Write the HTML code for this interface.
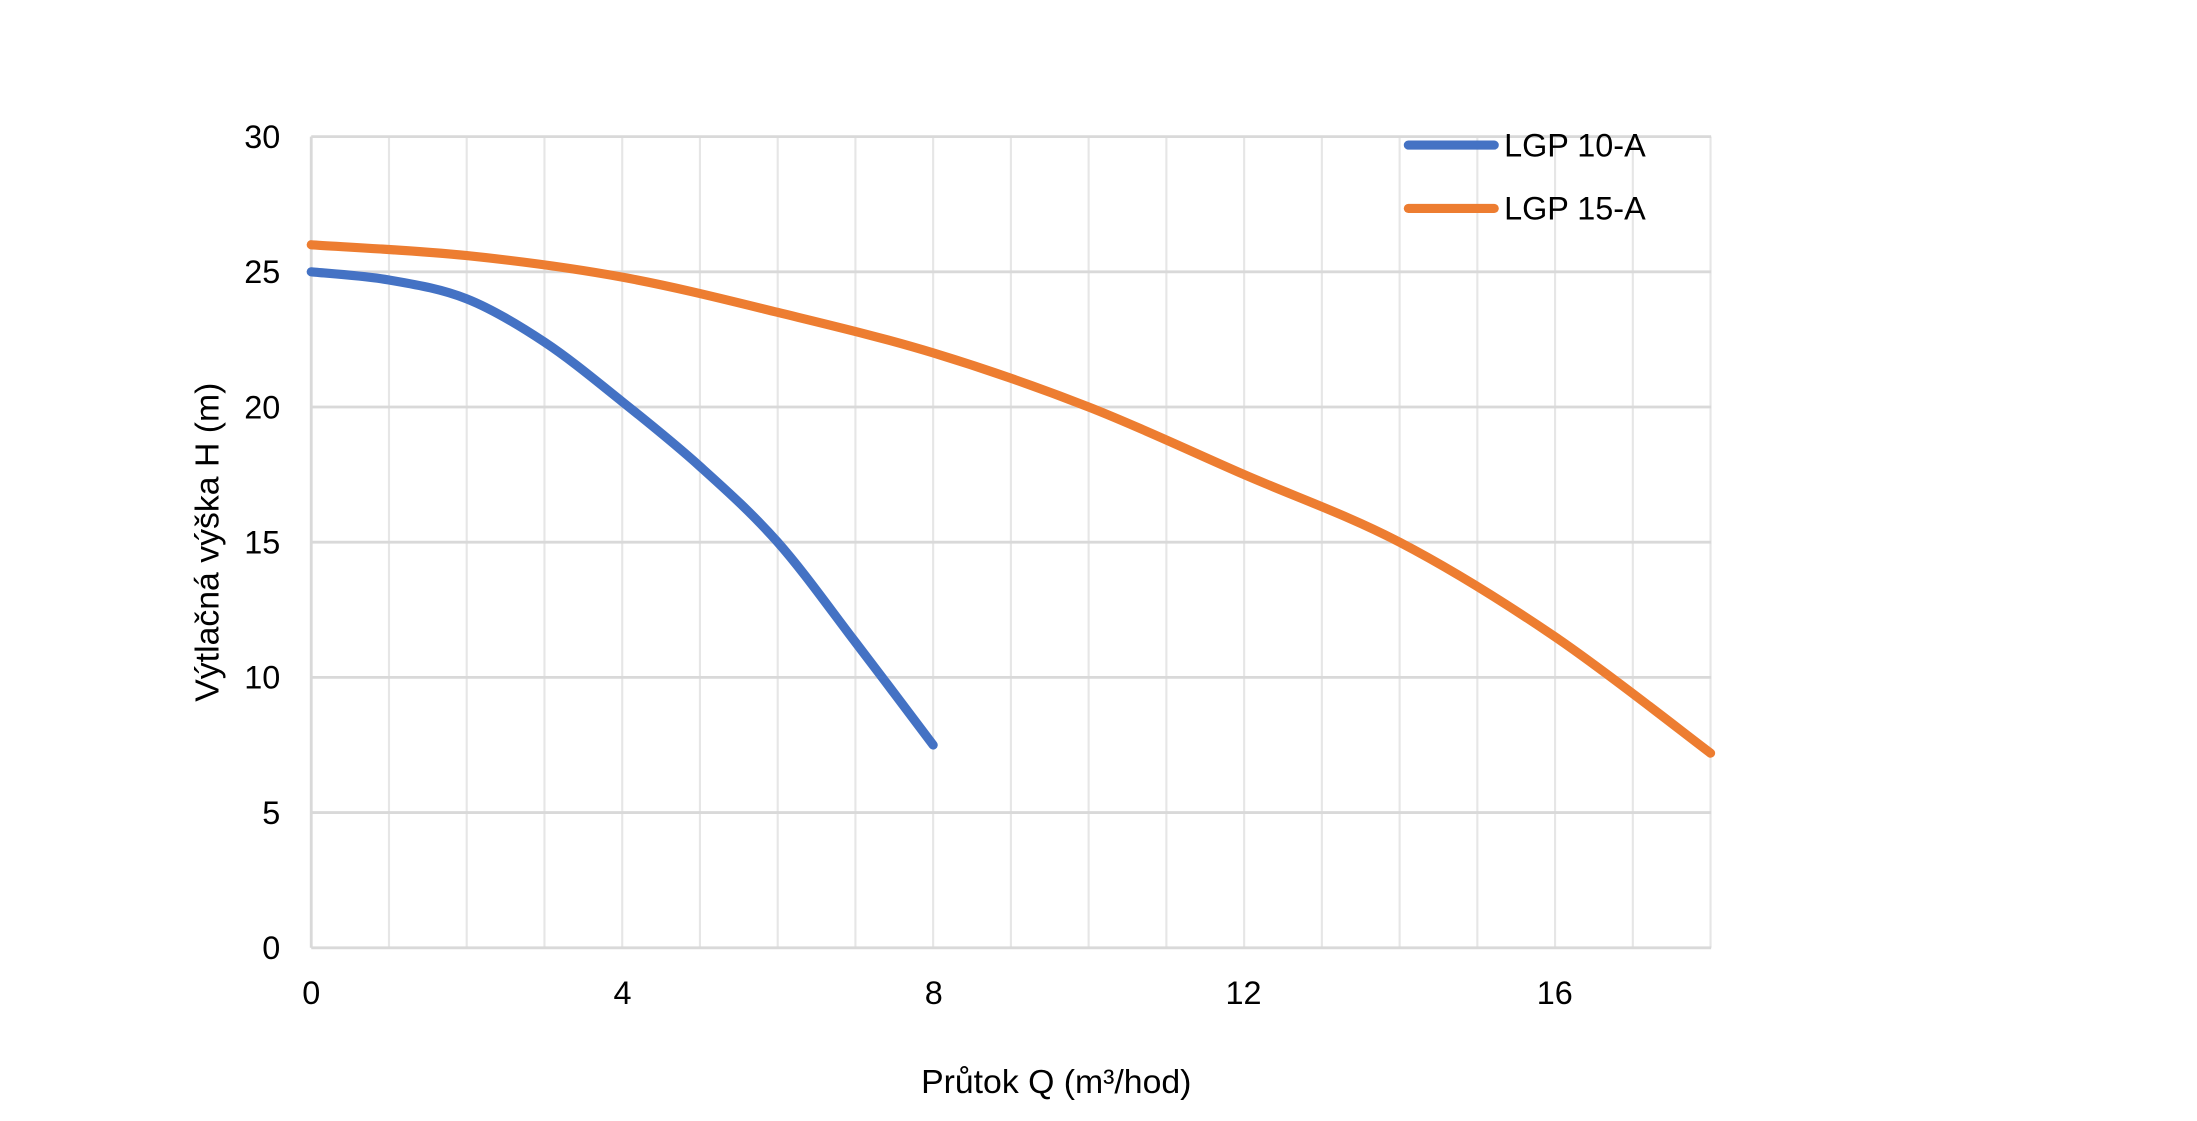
<!DOCTYPE html>
<html><head><meta charset="utf-8"><style>html,body{margin:0;padding:0;background:#fff}svg{display:block}</style></head>
<body>
<svg width="2197" height="1121" viewBox="0 0 1560 796" preserveAspectRatio="none" xmlns="http://www.w3.org/2000/svg" font-family="'Liberation Sans', sans-serif" fill="#000">
<g stroke="#e6e6e6" stroke-width="1.5">
<line x1="276.2" y1="97" x2="276.2" y2="673"/><line x1="331.4" y1="97" x2="331.4" y2="673"/><line x1="386.6" y1="97" x2="386.6" y2="673"/><line x1="441.8" y1="97" x2="441.8" y2="673"/><line x1="497" y1="97" x2="497" y2="673"/><line x1="552.2" y1="97" x2="552.2" y2="673"/><line x1="607.4" y1="97" x2="607.4" y2="673"/><line x1="662.6" y1="97" x2="662.6" y2="673"/><line x1="717.8" y1="97" x2="717.8" y2="673"/><line x1="773" y1="97" x2="773" y2="673"/><line x1="828.2" y1="97" x2="828.2" y2="673"/><line x1="883.4" y1="97" x2="883.4" y2="673"/><line x1="938.6" y1="97" x2="938.6" y2="673"/><line x1="993.8" y1="97" x2="993.8" y2="673"/><line x1="1049" y1="97" x2="1049" y2="673"/><line x1="1104.2" y1="97" x2="1104.2" y2="673"/><line x1="1159.4" y1="97" x2="1159.4" y2="673"/><line x1="1214.6" y1="97" x2="1214.6" y2="673"/>
</g>
<g stroke="#d9d9d9" stroke-width="2">
<line x1="221" y1="97" x2="1215" y2="97"/><line x1="221" y1="193" x2="1215" y2="193"/><line x1="221" y1="289" x2="1215" y2="289"/><line x1="221" y1="385" x2="1215" y2="385"/><line x1="221" y1="481" x2="1215" y2="481"/><line x1="221" y1="577" x2="1215" y2="577"/><line x1="221" y1="673" x2="1215" y2="673"/><line x1="221" y1="97" x2="221" y2="673"/>
</g>
<g font-size="23" text-anchor="end">
<text x="199" y="105">30</text><text x="199" y="201">25</text><text x="199" y="297">20</text><text x="199" y="393">15</text><text x="199" y="489">10</text><text x="199" y="585">5</text><text x="199" y="681">0</text>
</g>
<g font-size="23" text-anchor="middle">
<text x="221" y="713">0</text><text x="442" y="713">4</text><text x="663" y="713">8</text><text x="883" y="713">12</text><text x="1104" y="713">16</text>
</g>
<text x="750" y="776" font-size="24" text-anchor="middle">Průtok Q (m³/hod)</text>
<text transform="translate(155,385) rotate(-90)" font-size="24" text-anchor="middle">Výtlačná výška H (m)</text>
<path fill="none" stroke="#4472c4" stroke-width="6.5" stroke-linecap="round" stroke-linejoin="round"
d="M221,193 C230.2,194 257.8,195.6 276.2,198.8 C294.6,202 313,204.9 331.4,212.2 C349.8,219.5 368.2,230.7 386.6,242.9 C405,255.1 423.4,270.5 441.8,285.2 C460.2,299.9 478.6,314.6 497,331.2 C515.4,347.8 533.8,364.2 552.2,385 C570.6,405.8 589,432 607.4,456 C625.8,480 653.4,516.8 662.6,529"/>
<path fill="none" stroke="#ed7d31" stroke-width="6.5" stroke-linecap="round" stroke-linejoin="round"
d="M221,173.8 C239.4,175.1 294.6,177.7 331.4,181.5 C368.2,185.3 405,190.1 441.8,196.8 C478.6,203.5 515.4,212.8 552.2,221.8 C589,230.8 625.8,239.4 662.6,250.6 C699.4,261.8 736.2,274.6 773,289 C809.8,303.4 846.6,321 883.4,337 C920.2,353 957,365.8 993.8,385 C1030.6,404.2 1067.4,427.2 1104.2,452.2 C1141,477.2 1196.2,521 1214.6,534.8"/>
<line x1="1000" y1="103" x2="1061" y2="103" stroke="#4472c4" stroke-width="6.5" stroke-linecap="round"/>
<line x1="1000" y1="148" x2="1061" y2="148" stroke="#ed7d31" stroke-width="6.5" stroke-linecap="round"/>
<text x="1068" y="111" font-size="23">LGP 10-A</text>
<text x="1068" y="156" font-size="23">LGP 15-A</text>
</svg>
</body></html>
